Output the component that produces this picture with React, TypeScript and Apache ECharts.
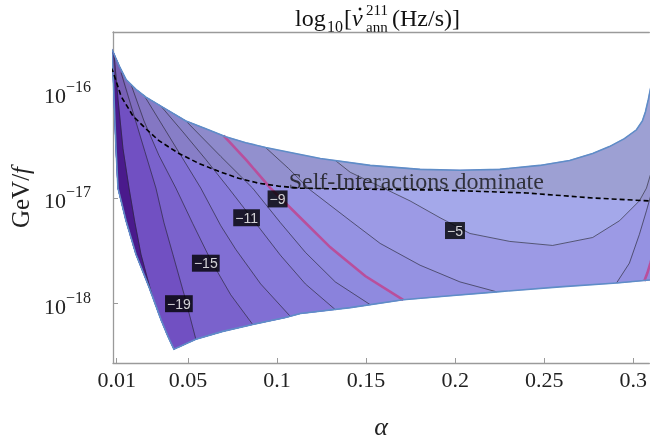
import React, { useEffect, useRef } from 'react';
import * as echarts from 'echarts';

// ---------- axes ----------
const alphaMin = 0.0079;
const alphaMax = 0.309;
const logMin = -18.561;
const logMax = -15.43;
const alphaTicks = [0.01, 0.05, 0.1, 0.15, 0.2, 0.25, 0.3];
const alphaTickLabels = ['0.01', '0.05', '0.1', '0.15', '0.2', '0.25', '0.3'];
const logTicks = [-18, -17, -16];
const logTickLabels = ['−18', '−17', '−16'];

// ---------- data: [alpha, log10(GeV/f)] ----------
const upperBoundary = [
  [0.00625, -15.57], [0.0079, -15.617], [0.0113, -15.748], [0.0152, -15.879], [0.0208, -15.972],
  [0.0264, -16.047], [0.032, -16.103], [0.0376, -16.159], [0.0488, -16.271], [0.06, -16.346],
  [0.0712, -16.421], [0.0824, -16.477], [0.0936, -16.523], [0.1047, -16.561], [0.1243, -16.626],
  [0.1523, -16.692], [0.1803, -16.729], [0.2027, -16.738], [0.2251, -16.729], [0.2475, -16.692],
  [0.2643, -16.645], [0.2772, -16.579], [0.2866, -16.514], [0.295, -16.439], [0.3018, -16.355],
  [0.3051, -16.271], [0.3068, -16.187], [0.3085, -16.065], [0.3096, -15.972], [0.3113, -15.86],
];
const lowerBoundary = [
  [0.00625, -15.589], [0.0074, -15.645], [0.0079, -15.785], [0.0085, -16.065], [0.0096, -16.533],
  [0.0107, -16.907], [0.0152, -17.215], [0.0208, -17.533], [0.0281, -17.841], [0.0348, -18.15],
  [0.0387, -18.308], [0.0421, -18.43], [0.0544, -18.336], [0.0695, -18.262], [0.0863, -18.196],
  [0.1047, -18.131], [0.1131, -18.093], [0.1411, -18.037], [0.1708, -17.963], [0.1971, -17.925],
  [0.2234, -17.888], [0.2587, -17.841], [0.2906, -17.804], [0.309, -17.776], [0.3202, -17.757],
];
const selfInteractionLine = [
  [0.0068, -15.766], [0.0079, -15.804], [0.0124, -16.037], [0.0191, -16.224], [0.0264, -16.346],
  [0.0337, -16.458], [0.0449, -16.579], [0.0561, -16.673], [0.0672, -16.748], [0.0784, -16.813],
  [0.0896, -16.86], [0.1008, -16.888], [0.1131, -16.907], [0.1411, -16.916], [0.1915, -16.925],
  [0.2402, -16.953], [0.2772, -17.0], [0.309, -17.028], [0.3202, -17.037],
];
// contour lines, listed from the lower boundary to the upper boundary
const contourM21 = [[0.0298, -17.916], [0.027, -17.748], [0.0236, -17.533], [0.0202, -17.234], [0.0169, -16.907], [0.0135, -16.533], [0.0107, -16.065], [0.009, -15.738], [0.0085, -15.645]];
const contourM19 = [[0.0544, -18.336], [0.0482, -17.935], [0.0415, -17.533], [0.0365, -17.234], [0.032, -16.907], [0.0258, -16.561], [0.0191, -16.187], [0.0124, -15.813]];
const contourM15 = [[0.0863, -18.196], [0.074, -17.916], [0.0628, -17.589], [0.0527, -17.243], [0.0432, -16.907], [0.0337, -16.598], [0.0253, -16.271], [0.018, -15.925]];
const contourM13 = [[0.1075, -18.121], [0.0908, -17.813], [0.0768, -17.486], [0.0684, -17.262], [0.0572, -16.907], [0.046, -16.598], [0.0348, -16.29], [0.0253, -16.028]];
const contourM11 = [[0.1327, -18.056], [0.1159, -17.813], [0.1019, -17.542], [0.0908, -17.299], [0.0728, -16.907], [0.06, -16.636], [0.0471, -16.374], [0.0348, -16.131]];
const contourM10 = [[0.1523, -18.009], [0.1327, -17.794], [0.1159, -17.514], [0.1019, -17.234], [0.0863, -16.907], [0.0684, -16.607], [0.0488, -16.271]];
const contourM9 = [[0.1708, -17.963], [0.1495, -17.738], [0.1299, -17.467], [0.1131, -17.187], [0.0963, -16.907], [0.0829, -16.645], [0.07, -16.411]];
const contourM7 = [[0.2234, -17.888], [0.2027, -17.794], [0.1803, -17.636], [0.1579, -17.43], [0.1411, -17.215], [0.1187, -16.925], [0.1064, -16.72], [0.0936, -16.523]];
// -5 contour: from the upper boundary (left) round to the right edge
const contourM5 = [[0.1327, -16.645], [0.1411, -16.757], [0.154, -16.86], [0.1747, -17.028], [0.1915, -17.187], [0.2083, -17.336], [0.2307, -17.411], [0.2547, -17.449], [0.2772, -17.374], [0.2923, -17.215], [0.3034, -17.028], [0.3074, -16.907], [0.3102, -16.748], [0.3124, -16.533], [0.3135, -16.252]];
// right-hand contours where the rate falls again
const contourM7Right = [[0.2906, -17.804], [0.2978, -17.617], [0.3034, -17.346], [0.3074, -17.121], [0.3102, -16.953], [0.3135, -16.766]];
const contourM9Right = [[0.3062, -17.785], [0.3079, -17.71], [0.3096, -17.617], [0.3124, -17.449]];

const contourLabelText = ['−19', '−15', '−11', '−9', '−5'];
const contourLabelAlpha = [0.0449, 0.06, 0.0829, 0.1003, 0.1999];
const contourLabelLog = [-18.0, -17.617, -17.187, -17.009, -17.308];
const annotationText = 'Self-Interactions dominate';
const annotationAt = [0.1065, -16.841];

// ---------- styles ----------
const C = {
  strip: '#4a1a8c', b21: '#7150c2', b19: '#7a62cc', b15: '#816fd4', b13: '#8679d9',
  b11: '#8a82dc', b10: '#8f8adf', b9: '#9592e2', b7: '#9c9ae5', b5: '#a4a8ea',
};

// ---------- geometry helpers ----------
type P = number[];
function interp(b: P[], a: number): number {
  for (let i = 0; i < b.length - 1; i++) {
    const [a0, l0] = b[i];
    const [a1, l1] = b[i + 1];
    if (a >= a0 && a <= a1) return l0 + ((l1 - l0) * (a - a0)) / (a1 - a0);
  }
  return a < b[0][0] ? b[0][1] : b[b.length - 1][1];
}
function leftOf(c: P[]): P[] {
  const s = c.map((p) => [p[0], p[1]]);
  s[0][1] = interp(lowerBoundary, s[0][0]);
  s[s.length - 1][1] = interp(upperBoundary, s[s.length - 1][0]);
  const aB = s[0][0];
  const aT = s[s.length - 1][0];
  return [
    ...s,
    ...upperBoundary.filter((p) => p[0] < aT).slice().reverse(),
    ...lowerBoundary.filter((p) => p[0] < aB),
  ];
}
function rightOf(c: P[]): P[] {
  const s = c.map((p) => [p[0], p[1]]);
  s[0][1] = interp(lowerBoundary, s[0][0]);
  const far = 0.34;
  return [
    ...s,
    [far, s[s.length - 1][1]],
    [far, lowerBoundary[lowerBoundary.length - 1][1]],
    ...lowerBoundary.filter((p) => p[0] > s[0][0]).slice().reverse(),
  ];
}
function above(c: P[]): P[] {
  const s = c.map((p) => [p[0], p[1]]);
  s[0][1] = interp(upperBoundary, s[0][0]);
  const aL = s[0][0];
  const aR = s[s.length - 1][0];
  return [...s, ...upperBoundary.filter((p) => p[0] > aL && p[0] < aR).slice().reverse()];
}
const wholeRegion = [...upperBoundary, ...lowerBoundary.slice().reverse()];
const overlayRegion = [
  ...selfInteractionLine,
  ...upperBoundary.filter((p) => p[0] < selfInteractionLine[selfInteractionLine.length - 1][0]).slice().reverse(),
];

const fillLayers = [
  { pts: wholeRegion, color: C.b7, stroke: true },
  { pts: leftOf(contourM7), color: C.b9, stroke: true },
  { pts: leftOf(contourM9), color: C.b10, stroke: true },
  { pts: leftOf(contourM10), color: C.b11, stroke: true },
  { pts: leftOf(contourM11), color: C.b13, stroke: true },
  { pts: leftOf(contourM13), color: C.b15, stroke: true },
  { pts: leftOf(contourM15), color: C.b19, stroke: true },
  { pts: leftOf(contourM19), color: C.b21, stroke: true },
  { pts: leftOf(contourM21), color: C.strip, stroke: true },
  { pts: above(contourM5), color: C.b5, stroke: true },
  { pts: rightOf(contourM7Right), color: C.b9, stroke: true },
  { pts: rightOf(contourM9Right), color: C.b10, stroke: true },
  { pts: overlayRegion, color: 'rgba(140,140,150,0.27)', stroke: false },
];

const thin = { color: 'rgba(40,40,50,0.8)', width: 0.8, dash: null as number[] | null };
const magenta = { color: '#b94f9c', width: 2.6, dash: null as number[] | null };
const lineLayers = [
  { pts: contourM21, ...thin },
  { pts: contourM19, ...thin },
  { pts: contourM15, ...thin },
  { pts: contourM13, ...thin },
  { pts: contourM11, ...thin },
  { pts: contourM10, ...thin },
  { pts: contourM7, ...thin },
  { pts: contourM5, ...thin },
  { pts: contourM7Right, ...thin },
  { pts: contourM9, ...magenta },
  { pts: contourM9Right, ...magenta },
  { pts: upperBoundary, color: '#5f8dc7', width: 1.6, dash: null },
  { pts: lowerBoundary, color: '#5f8dc7', width: 1.6, dash: null },
  { pts: selfInteractionLine, color: '#000', width: 1.6, dash: [5, 3] },
];

const SERIF = '"Liberation Serif", "DejaVu Serif", serif';
const axisGray = '#9a9a9a';

export default function App() {
  const ref = useRef<HTMLDivElement>(null);
  useEffect(() => {
    if (!ref.current) return;
    const chart = echarts.init(ref.current, undefined, { renderer: 'svg' });
    const t = (text: string, x: number, y: number, font: string) => ({
      type: 'text', x, y, silent: true,
      style: { text, font, fill: '#111', verticalAlign: 'middle', textVerticalAlign: 'middle' },
    });
    const option: any = {
      animation: false,
      grid: { left: 112, right: 0, top: 32, bottom: 77 },
      xAxis: [
        {
          type: 'value', min: alphaMin, max: alphaMax, position: 'bottom',
          name: 'α', nameLocation: 'middle', nameGap: 50,
          nameTextStyle: { fontFamily: SERIF, fontSize: 26, fontStyle: 'italic', color: '#222' },
          axisLine: { show: true, onZero: false, lineStyle: { color: axisGray, width: 1.3 } },
          axisTick: { show: true, inside: true, length: 5, customValues: alphaTicks, lineStyle: { color: axisGray } },
          axisLabel: {
            customValues: alphaTicks, margin: 5, fontFamily: SERIF, fontSize: 22, color: '#222',
            formatter: (v: number) => {
              const i = alphaTicks.findIndex((tv) => Math.abs(tv - v) < 1e-9);
              return i >= 0 ? alphaTickLabels[i] : '';
            },
          },
          splitLine: { show: false },
        },
        {
          type: 'value', min: alphaMin, max: alphaMax, position: 'top',
          axisLine: { show: true, onZero: false, lineStyle: { color: axisGray, width: 1.3 } },
          axisTick: { show: false }, axisLabel: { show: false }, splitLine: { show: false },
        },
      ],
      yAxis: {
        type: 'value', min: logMin, max: logMax,
        name: '{r|GeV/}{i|f}', nameLocation: 'middle', nameGap: 80, nameRotate: 90,
        nameTextStyle: {
          rich: {
            r: { fontFamily: SERIF, fontSize: 25, color: '#222' },
            i: { fontFamily: SERIF, fontSize: 25, fontStyle: 'italic', color: '#222' },
          },
        },
        axisLine: { show: true, onZero: false, lineStyle: { color: axisGray, width: 1.3 } },
        axisTick: { show: true, inside: true, length: 5, customValues: logTicks, lineStyle: { color: axisGray } },
        axisLabel: {
          customValues: logTicks, margin: 22,
          formatter: (v: number) => {
            const i = logTicks.indexOf(Math.round(v));
            return `{b|10}{s|${i >= 0 ? logTickLabels[i] : ''}}`;
          },
          rich: {
            b: { fontFamily: SERIF, fontSize: 22, color: '#222', lineHeight: 28, verticalAlign: 'bottom' },
            s: { fontFamily: SERIF, fontSize: 16, color: '#222', lineHeight: 16, verticalAlign: 'top' },
          },
        },
        splitLine: { show: false },
      },
      graphic: [
        t('log', 295, 18, `24px ${SERIF}`),
        t('10', 327, 26, `16px ${SERIF}`),
        t('[', 344, 18, `24px ${SERIF}`),
        t('ν', 352, 18, `italic 24px ${SERIF}`),
        { type: 'circle', silent: true, shape: { cx: 360, cy: 9, r: 1.4 }, style: { fill: '#111' } },
        t('211', 366, 10, `15px ${SERIF}`),
        t('ann', 366, 27, `15px ${SERIF}`),
        t('(Hz/s)]', 392, 18, `24px ${SERIF}`),
      ],
      series: [
        {
          type: 'custom', name: 'bands', clip: true, silent: true, z: 1,
          encode: { x: 0, y: 1 },
          data: fillLayers.map((_, i) => [0.1, -17, i]),
          renderItem: (_p: any, api: any) => {
            const layer = fillLayers[api.value(2)];
            return {
              type: 'polygon',
              shape: { points: layer.pts.map((p) => api.coord(p)) },
              style: layer.stroke
                ? { fill: layer.color, stroke: layer.color, lineWidth: 0.6 }
                : { fill: layer.color },
            };
          },
        },
        {
          type: 'custom', name: 'lines', clip: true, silent: true, z: 2,
          encode: { x: 0, y: 1 },
          data: lineLayers.map((_, i) => [0.1, -17, i]),
          renderItem: (_p: any, api: any) => {
            const ln = lineLayers[api.value(2)];
            return {
              type: 'polyline',
              shape: { points: ln.pts.map((p) => api.coord(p)) },
              style: { stroke: ln.color, lineWidth: ln.width, fill: null, lineDash: ln.dash || undefined },
            };
          },
        },
        {
          type: 'scatter', name: 'annotation', silent: true, z: 4, symbolSize: 0.1,
          itemStyle: { color: 'rgba(0,0,0,0)' },
          data: [{ name: annotationText, value: annotationAt }],
          label: {
            show: true, position: 'right', distance: 0, formatter: '{b}',
            fontFamily: SERIF, fontSize: 24, color: '#151515',
          },
        },
        {
          type: 'scatter', name: 'contour labels', silent: true, z: 5, symbolSize: 0.1,
          itemStyle: { color: 'rgba(0,0,0,0)' },
          data: contourLabelText.map((tx, i) => ({ name: tx, value: [contourLabelAlpha[i], contourLabelLog[i]] })),
          label: {
            show: true, position: 'inside', formatter: '{b}',
            fontFamily: '"Liberation Sans", Arial, sans-serif', fontSize: 14, color: '#fff',
            backgroundColor: '#000', padding: [2, 2, 1, 2], lineHeight: 14,
          },
        },
      ],
    };
    chart.setOption(option);
    return () => chart.dispose();
  }, []);
  return <div ref={ref} style={{ position: 'fixed', left: 0, top: 0, width: 650, height: 444 }} />;
}
